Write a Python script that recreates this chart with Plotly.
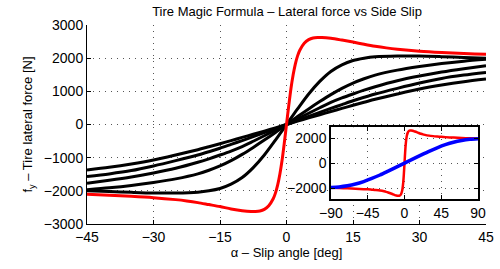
import plotly.graph_objects as go

# ---- data ----
alpha_black = [-45, -40, -35, -30, -25, -20, -17.5, -15, -12.5, -10, -7.5, -5, -2.5, 0,
               2.5, 5, 7.5, 10, 12.5, 15, 17.5, 20, 25, 30, 35, 40, 45]
fy_black1 = [-1995, -2020, -2045, -2065, -2065, -2040, -2000, -1930, -1800, -1600, -1300, -920, -470, 0,
             470, 920, 1300, 1600, 1800, 1930, 2000, 2040, 2065, 2065, 2045, 2020, 1995]
fy_black2 = [-1965, -1910, -1840, -1750, -1640, -1490, -1380, -1250, -1090, -900, -690, -470, -240, 0,
             240, 470, 690, 900, 1090, 1250, 1380, 1490, 1640, 1750, 1840, 1910, 1965]
fy_black3 = [-1770, -1680, -1580, -1460, -1320, -1140, -1035, -920, -800, -665, -505, -340, -170, 0,
             170, 340, 505, 665, 800, 920, 1035, 1140, 1320, 1460, 1580, 1680, 1770]
fy_black4 = [-1570, -1490, -1390, -1250, -1090, -920, -820, -715, -600, -485, -365, -245, -122, 0,
             122, 245, 365, 485, 600, 715, 820, 920, 1090, 1250, 1390, 1490, 1570]
fy_black5 = [-1370, -1290, -1190, -1070, -920, -760, -670, -580, -485, -390, -295, -200, -100, 0,
             100, 200, 295, 390, 485, 580, 670, 760, 920, 1070, 1190, 1290, 1370]

alpha_red = [-90, -80, -70, -60, -50, -45, -40, -35, -30, -25, -22.5, -20, -17.5, -15, -12.5, -10,
             -8, -7, -6, -5, -4, -3, -2.5, -2, -1.5, -1, -0.5, 0,
             0.5, 1, 1.5, 2, 2.5, 3, 4, 5, 6, 7, 8,
             10, 12.5, 15, 17.5, 20, 22.5, 25, 30, 35, 40, 45, 50, 60, 70, 80, 90]
fy_red = [-1985, -2000, -2020, -2050, -2090, -2105, -2135, -2165, -2205, -2265, -2305, -2355, -2415, -2475, -2545, -2600,
          -2625, -2625, -2610, -2560, -2450, -2240, -2070, -1830, -1500, -1080, -560, 0,
          560, 1080, 1500, 1830, 2070, 2240, 2450, 2560, 2610, 2625, 2625,
          2600, 2545, 2485, 2420, 2360, 2310, 2270, 2210, 2170, 2140, 2115, 2090, 2050, 2020, 2000, 1985]

alpha_blue = [-90, -80, -70, -60, -50, -40, -30, -20, -10, 0, 10, 20, 30, 40, 50, 60, 70, 80, 90]
fy_blue = [-1950, -1910, -1820, -1680, -1480, -1230, -950, -640, -320, 0,
           320, 640, 950, 1230, 1480, 1680, 1820, 1910, 1950]

main_xticks = [-45, -30, -15, 0, 15, 30, 45]
main_yticks = [-3000, -2000, -1000, 0, 1000, 2000, 3000]
inset_xticks = [-90, -45, 0, 45, 90]
inset_yticks = [-2000, 0, 2000]

FONT = "Liberation Sans, Arial, Helvetica, sans-serif"

fig = go.Figure()
for fy in [fy_black1, fy_black2, fy_black3, fy_black4, fy_black5]:
    fig.add_trace(go.Scatter(x=alpha_black, y=fy, mode="lines",
                             line=dict(color="black", width=3, shape="spline", smoothing=0.8),
                             xaxis="x", yaxis="y", showlegend=False, hoverinfo="skip"))
fig.add_trace(go.Scatter(x=alpha_red, y=fy_red, mode="lines",
                         line=dict(color="#ff0000", width=3, shape="spline", smoothing=0.8),
                         xaxis="x", yaxis="y", showlegend=False, hoverinfo="skip"))
# inset
fig.add_trace(go.Scatter(x=alpha_red, y=fy_red, mode="lines",
                         line=dict(color="#ff0000", width=2.5, shape="spline", smoothing=0.8),
                         xaxis="x2", yaxis="y2", showlegend=False, hoverinfo="skip"))
fig.add_trace(go.Scatter(x=alpha_blue, y=fy_blue, mode="lines",
                         line=dict(color="#0000ff", width=3.5, shape="spline", smoothing=0.8),
                         xaxis="x2", yaxis="y2", showlegend=False, hoverinfo="skip"))

grid = dict(showgrid=True, gridcolor="#555555", griddash="1px,5px", gridwidth=1, zeroline=False,
            automargin=False)

fig.update_layout(
    width=500, height=269,
    margin=dict(l=87, r=14, t=25, b=45),
    paper_bgcolor="white", plot_bgcolor="white",
    font=dict(family=FONT, color="black", size=14),
    title=dict(text="Tire Magic Formula \u2013 Lateral force vs Side Slip",
               font=dict(size=13), x=0.574, xanchor="center",
               y=1 - 11 / 269, yanchor="middle", yref="container"),
    xaxis=dict(domain=[0, 1], range=[-45, 45], tickvals=main_xticks, ticks="inside", ticklen=4,
               tickcolor="black", showline=True, linecolor="black", linewidth=1, mirror=False,
               tickfont=dict(size=14), anchor="y",
               title=dict(text="\u03b1 \u2013 Slip angle [deg]", font=dict(size=13), standoff=2),
               **grid),
    yaxis=dict(domain=[0, 1], range=[-3000, 3000], tickvals=main_yticks, ticks="inside", ticklen=4,
               tickcolor="black", showline=True, linecolor="black", linewidth=1, mirror=False,
               tickfont=dict(size=14), anchor="x",
               title=dict(text="f<sub>y</sub> \u2013 Tire lateral force [N]", font=dict(size=13), standoff=8),
               **grid),
    xaxis2=dict(domain=[0.6115, 0.98], range=[-90, 90], tickvals=inset_xticks, ticks="inside", ticklen=4,
                tickcolor="black", showline=True, linecolor="black", linewidth=1.5, mirror="ticks",
                tickfont=dict(size=14), anchor="y2", **grid),
    yaxis2=dict(domain=[0.1256, 0.486], range=[-2880, 2880], tickvals=inset_yticks, ticks="inside", ticklen=4,
                tickcolor="black", showline=True, linecolor="black", linewidth=1.5, mirror="ticks",
                tickfont=dict(size=14), anchor="x2", **grid),
)

fig.write_html("out.html", config={"displayModeBar": False},
               post_script="document.body.style.margin='0';document.body.style.padding='0';")
